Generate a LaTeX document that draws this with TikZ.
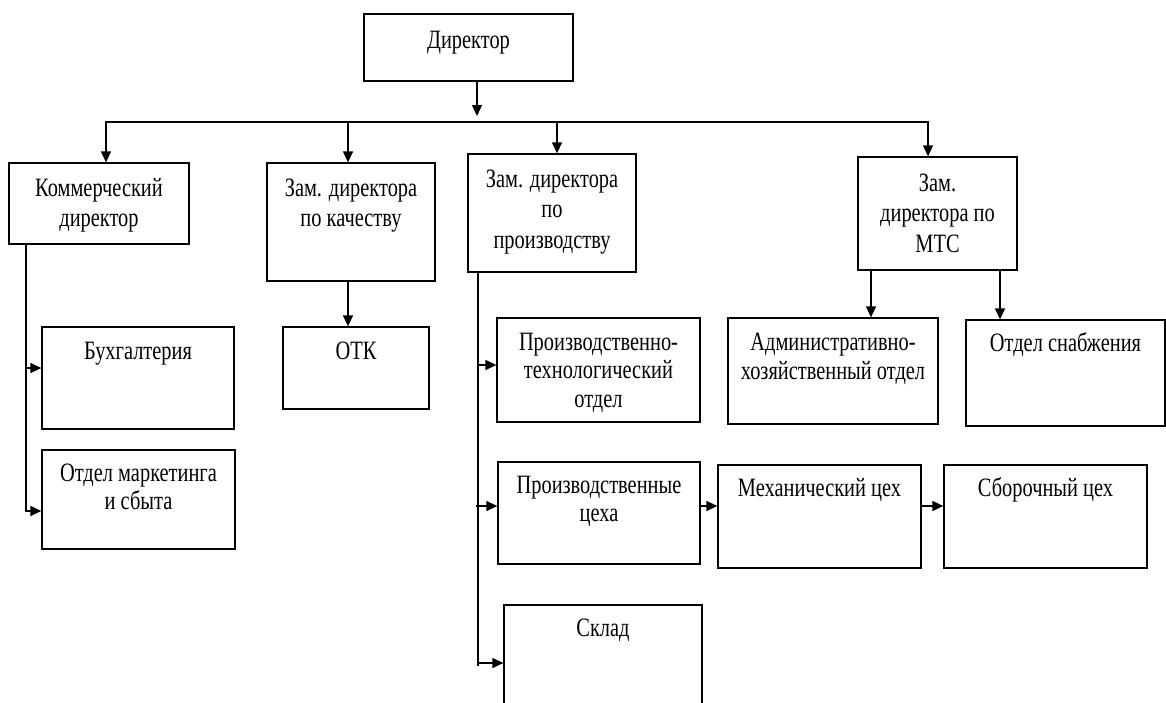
\documentclass[tikz,border=0pt]{standalone}
\usepackage{fontspec}
\setmainfont{Liberation Serif}[FakeStretch=0.77]
\usetikzlibrary{arrows.meta}
\newcommand\tlines[1]{\parbox[t]{220pt}{\centering #1}}
\begin{document}
\begin{tikzpicture}[x=1pt,y=-1pt,
  box/.style={draw, line width=1.3pt, inner sep=0pt, rectangle},
  txt/.style={anchor=base, inner sep=0pt, font=\fontsize{26.5}{30.5}\selectfont},
  txtb/.style={anchor=base, inner sep=0pt, font=\fontsize{26.5}{28.5}\selectfont},
  ln/.style={line width=1.3pt},
  arr/.style={line width=1.3pt, -{Triangle[length=11pt,width=10pt]}}]
\clip (0,0) rectangle (1166,702);
\fill[white] (0,0) rectangle (1166,702);
% boxes
\node[box, minimum width=209pt, minimum height=67pt]  (dir)    at (468.5,47.5) {};
\node[box, minimum width=180pt, minimum height=81pt]  (kom)    at (99,203.5) {};
\node[box, minimum width=168pt, minimum height=118pt] (kach)   at (351,222) {};
\node[box, minimum width=168pt, minimum height=118pt] (proizv) at (552,213) {};
\node[box, minimum width=159pt, minimum height=113pt] (mts)    at (937.5,213.5) {};
\node[box, minimum width=192pt, minimum height=102pt] (bux)    at (138,378) {};
\node[box, minimum width=193pt, minimum height=99pt]  (mark)   at (138.5,499.5) {};
\node[box, minimum width=146pt, minimum height=82pt]  (otk)    at (356,368) {};
\node[box, minimum width=203pt, minimum height=104pt] (pto)    at (598.5,370) {};
\node[box, minimum width=210pt, minimum height=106pt] (axo)    at (833,371) {};
\node[box, minimum width=199pt, minimum height=106pt] (snab)   at (1065.5,373) {};
\node[box, minimum width=202pt, minimum height=102pt] (pc)     at (599,513) {};
\node[box, minimum width=203pt, minimum height=103pt] (mex)    at (819.5,516.5) {};
\node[box, minimum width=203pt, minimum height=103pt] (sbor)   at (1045.5,516.5) {};
\node[box, minimum width=198pt, minimum height=135pt] (sklad)  at (603,672.5) {};
% texts
\node[txt]  (t-dir)    at ([yshift=-35pt]dir.north)    {Директор};
\node[txt]  (t-kom)    at ([yshift=-34pt]kom.north)    {\tlines{Коммерческий\\директор}};
\node[txt]  (t-kach)   at ([yshift=-34pt]kach.north)   {\tlines{Зам. директора\\по качеству}};
\node[txt]  (t-proizv) at ([yshift=-34pt]proizv.north) {\tlines{Зам. директора\\по\\производству}};
\node[txt]  (t-mts)    at ([yshift=-35pt]mts.north)    {\tlines{Зам.\\директора по\\МТС}};
\node[txtb] (t-bux)    at ([yshift=-33pt]bux.north)    {Бухгалтерия};
\node[txtb] (t-mark)   at ([yshift=-32pt]mark.north)   {\tlines{Отдел маркетинга\\и сбыта}};
\node[txtb] (t-otk)    at ([yshift=-33pt]otk.north)    {ОТК};
\node[txtb] (t-pto)    at ([yshift=-33pt]pto.north)    {\tlines{Производственно-\\технологический\\отдел}};
\node[txtb] (t-axo)    at ([yshift=-33.5pt]axo.north)  {\tlines{Административно-\\хозяйственный отдел}};
\node[txtb] (t-snab)   at ([yshift=-32pt]snab.north)   {Отдел снабжения};
\node[txtb] (t-pc)     at ([yshift=-32pt]pc.north)     {\tlines{Производственные\\цеха}};
\node[txtb] (t-mex)    at ([yshift=-32pt]mex.north)    {Механический цех};
\node[txtb] (t-sbor)   at ([yshift=-32pt]sbor.north)   {Сборочный цех};
\node[txtb] (t-sklad)  at ([yshift=-32pt]sklad.north)  {Склад};
% connectors
\coordinate (tip) at (477,116);
\draw[arr] (tip |- dir.south) -- (tip);
\coordinate (bL) at (106,122);
\coordinate (b2) at (348,122);
\coordinate (b3) at (557,122);
\coordinate (bR) at (928,122);
\draw[ln] ([xshift=-0.65pt]bL) -- ([xshift=0.65pt]bR);
\draw[arr] (bL) -- (bL |- kom.north);
\draw[arr] (b2) -- (b2 |- kach.north);
\draw[arr] (b3) -- (b3 |- proizv.north);
\draw[arr] (bR) -- (bR |- mts.north);
% commercial branch
\coordinate (k1) at (26,368);
\coordinate (k2) at (26,511);
\draw[ln] (k2 |- kom.south) -- ([yshift=-0.65pt]k2);
\draw[arr] (k1) -- (k1 -| bux.west);
\draw[arr] (k2) -- (k2 -| mark.west);
% quality
\coordinate (q) at (348,300);
\draw[arr] (q |- kach.south) -- (q |- otk.north);
% production branch
\coordinate (p1) at (478,365);
\coordinate (p2) at (476,506);
\coordinate (p3) at (478,663);
\coordinate (pe) at (478,666);
\draw[ln] (pe |- proizv.south) -- (pe);
\draw[arr] (p1) -- (p1 -| pto.west);
\draw[arr] (p2) -- (p2 -| pc.west);
\draw[arr] (p3) -- (p3 -| sklad.west);
% MTS branch
\coordinate (m1) at (871,300);
\coordinate (m2) at (1000,300);
\draw[arr] (m1 |- mts.south) -- (m1 |- axo.north);
\draw[arr] (m2 |- mts.south) -- (m2 |- snab.north);
% workshops
\coordinate (h) at (700,506);
\draw[arr] (h -| pc.east) -- (h -| mex.west);
\draw[arr] (h -| mex.east) -- (h -| sbor.west);
\end{tikzpicture}
\end{document}
